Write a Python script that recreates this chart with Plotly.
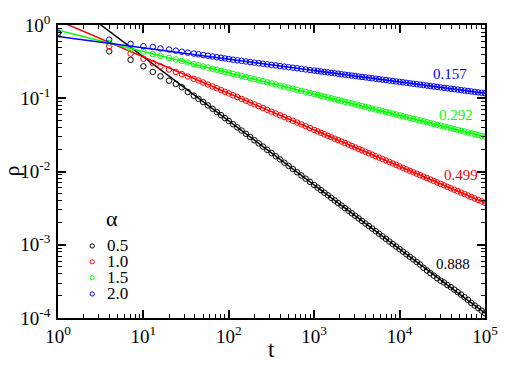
import math
import plotly.graph_objects as go

# ---------------- data (log10 values) ----------------
log10_t = [0, 0.60, 0.85, 1.00, 1.11, 1.20, 1.30, 1.38, 1.45, 1.52, 1.59, 1.645, 1.70, 1.755,
           1.81, 1.86, 1.91, 1.955, 2.00,
           2.05, 2.10, 2.15, 2.20, 2.25, 2.30, 2.35, 2.40, 2.45, 2.50, 2.55, 2.60, 2.65, 2.70,
           2.75, 2.80, 2.85, 2.90, 2.95, 3.00,
           3.04, 3.08, 3.12, 3.16, 3.20, 3.24, 3.28, 3.32, 3.36, 3.40, 3.44, 3.48, 3.52, 3.56,
           3.60, 3.64, 3.68, 3.72, 3.76, 3.80, 3.84, 3.88, 3.92, 3.96, 4.00, 4.04, 4.08, 4.12,
           4.16, 4.20, 4.24, 4.28, 4.32, 4.36, 4.40, 4.44, 4.48, 4.52, 4.56, 4.60, 4.64, 4.68,
           4.72, 4.76, 4.80, 4.84, 4.88, 4.92, 4.96, 5.00]

log10_rho_a05 = [-0.115, -0.36, -0.476, -0.564, -0.64, -0.70, -0.76, -0.805, -0.85, -0.915, -0.965,
                 -1.008, -1.052, -1.098, -1.144, -1.188, -1.231, -1.271, -1.31,
                 -1.354, -1.398, -1.441, -1.485, -1.529, -1.573, -1.616, -1.66, -1.704, -1.748,
                 -1.791, -1.835, -1.879, -1.923, -1.966, -2.01, -2.054, -2.098, -2.141, -2.185,
                 -2.22, -2.255, -2.29, -2.325, -2.36, -2.395, -2.43, -2.465, -2.50, -2.535, -2.57,
                 -2.605, -2.64, -2.675, -2.71, -2.745, -2.78, -2.815, -2.85, -2.885, -2.92, -2.955,
                 -2.99, -3.025, -3.06, -3.095, -3.13, -3.165, -3.20, -3.235, -3.27, -3.315, -3.352,
                 -3.387, -3.422, -3.457, -3.49, -3.515, -3.55, -3.578, -3.612, -3.646, -3.681,
                 -3.716, -3.752, -3.795, -3.83, -3.865, -3.90, -3.935]

log10_rho_a10 = [-0.115, -0.29, -0.39, -0.46, -0.52, -0.565, -0.608, -0.64, -0.67, -0.703, -0.735,
                 -0.757, -0.785, -0.812, -0.839, -0.864, -0.889, -0.912, -0.934,
                 -0.959, -0.984, -1.009, -1.034, -1.059, -1.083, -1.108, -1.133, -1.158, -1.183,
                 -1.208, -1.233, -1.258, -1.283, -1.308, -1.332, -1.357, -1.382, -1.407, -1.432,
                 -1.452, -1.472, -1.492, -1.512, -1.532, -1.552, -1.571, -1.591, -1.611, -1.631,
                 -1.651, -1.671, -1.691, -1.711, -1.731, -1.751, -1.771, -1.791, -1.810, -1.830,
                 -1.850, -1.870, -1.890, -1.910, -1.930, -1.950, -1.970, -1.990, -2.010, -2.030,
                 -2.050, -2.069, -2.089, -2.109, -2.129, -2.149, -2.169, -2.189, -2.209, -2.229,
                 -2.249, -2.269, -2.289, -2.308, -2.328, -2.348, -2.368, -2.388, -2.408, -2.428]

log10_rho_a15 = [-0.115, -0.245, -0.333, -0.363, -0.398, -0.422, -0.449, -0.472, -0.492, -0.512,
                 -0.533, -0.549, -0.565, -0.581, -0.597, -0.611, -0.626, -0.639, -0.652,
                 -0.667, -0.681, -0.696, -0.710, -0.725, -0.739, -0.754, -0.768, -0.783, -0.798,
                 -0.812, -0.827, -0.841, -0.856, -0.870, -0.885, -0.899, -0.914, -0.928, -0.943,
                 -0.955, -0.966, -0.978, -0.990, -1.001, -1.013, -1.024, -1.036, -1.048, -1.059,
                 -1.071, -1.083, -1.094, -1.106, -1.118, -1.129, -1.141, -1.153, -1.164, -1.176,
                 -1.187, -1.199, -1.211, -1.222, -1.234, -1.246, -1.257, -1.269, -1.281, -1.292,
                 -1.304, -1.315, -1.327, -1.339, -1.350, -1.362, -1.374, -1.385, -1.397, -1.409,
                 -1.420, -1.432, -1.444, -1.455, -1.467, -1.478, -1.490, -1.502, -1.513, -1.525]

log10_rho_a20 = [-0.105, -0.20, -0.258, -0.289, -0.30, -0.32, -0.335, -0.35, -0.365, -0.378, -0.39,
                 -0.40, -0.41, -0.42, -0.43, -0.44, -0.449, -0.457, -0.465,
                 -0.474, -0.482, -0.490, -0.498, -0.506, -0.514, -0.521, -0.529, -0.537, -0.545,
                 -0.552, -0.560, -0.568, -0.576, -0.583, -0.591, -0.599, -0.607, -0.614, -0.622,
                 -0.628, -0.634, -0.641, -0.647, -0.653, -0.659, -0.665, -0.672, -0.678, -0.684,
                 -0.690, -0.696, -0.703, -0.709, -0.715, -0.721, -0.727, -0.734, -0.740, -0.746,
                 -0.752, -0.758, -0.765, -0.771, -0.777, -0.783, -0.789, -0.796, -0.802, -0.808,
                 -0.814, -0.820, -0.827, -0.833, -0.839, -0.845, -0.851, -0.858, -0.864, -0.870,
                 -0.876, -0.882, -0.889, -0.895, -0.901, -0.907, -0.913, -0.920, -0.926, -0.932]

alpha_labels = ["0.5", "1.0", "1.5", "2.0"]
exponent_labels = ["0.888", "0.499", "0.292", "0.157"]
fit_slope = [0.875, 0.498, 0.291, 0.155]          # slopes of the drawn fit lines
fit_log_amp = [0.44, 0.062, -0.07, -0.157]        # log10 prefactors of the fit lines
series = [log10_rho_a05, log10_rho_a10, log10_rho_a15, log10_rho_a20]

x_tick_vals = [1, 10, 100, 1000, 10000, 100000]
x_tick_text = ["10<sup>0</sup>", "10<sup>1</sup>", "10<sup>2</sup>", "10<sup>3</sup>",
               "10<sup>4</sup>", "10<sup>5</sup>"]
y_tick_vals = [1e-4, 1e-3, 1e-2, 1e-1, 1]
y_tick_text = ["10<sup>-4</sup>", "10<sup>-3</sup>", "10<sup>-2</sup>", "10<sup>-1</sup>",
               "10<sup>0</sup>"]

# ---------------- styling ----------------
colors = ["#000000", "#ff0000", "#00ff00", "#0000ff"]
FONT = "'Liberation Serif', 'DejaVu Serif', serif"
W, H = 510, 365
ML, MR, MT, MB = 58, 15, 13, 47
PW, PH = W - ML - MR, H - MT - MB


def px(xp):
    return (xp - ML) / PW


def py(yp):
    return (H - MB - yp) / PH


t_vals = [10 ** v for v in log10_t]
t_line = [x_tick_vals[0], x_tick_vals[-1]]

fig = go.Figure()
for i, ys in enumerate(series):
    fig.add_trace(go.Scatter(
        x=t_vals, y=[10 ** v for v in ys], mode="markers",
        marker=dict(symbol="circle-open", size=5.5, color=colors[i], line=dict(width=1, color=colors[i])),
        showlegend=False, hoverinfo="skip"))
    fig.add_trace(go.Scatter(
        x=t_line,
        y=[10 ** (fit_log_amp[i] - fit_slope[i] * math.log10(x)) for x in t_line],
        mode="lines", line=dict(color=colors[i], width=1.5),
        showlegend=False, hoverinfo="skip"))

axis_common = dict(
    type="log", showline=True, linecolor="black", linewidth=1.5, mirror="allticks",
    ticks="inside", ticklen=8, tickwidth=1.5, tickcolor="black", showgrid=False, zeroline=False,
    tickfont=dict(family=FONT, size=19, color="black"),
    minor=dict(ticks="inside", ticklen=4.5, tickwidth=1, tickcolor="black", dtick="D1", showgrid=False),
)

fig.update_xaxes(range=[0, 5], tickvals=x_tick_vals, ticktext=x_tick_text, ticklabelstandoff=0, **axis_common)
fig.update_yaxes(range=[-4, 0], tickvals=y_tick_vals, ticktext=y_tick_text, ticklabelstandoff=2, **axis_common)

annotations = []
# fit exponent labels
label_pos = [(443, 261.5), (451, 169.5), (446, 106.5), (440, 64)]
for i, (lx, ly) in enumerate(label_pos):
    annotations.append(dict(x=px(lx), y=py(ly), xref="paper", yref="paper", text=exponent_labels[i],
                            showarrow=False, xanchor="left", yanchor="middle",
                            font=dict(family=FONT, size=15, color=colors[i])))
# axis titles
annotations.append(dict(x=px(276.5), y=py(366), xref="paper", yref="paper", text="t", showarrow=False,
                        xanchor="center", yanchor="bottom", font=dict(family=FONT, size=23, color="black")))
annotations.append(dict(x=px(10), y=py(165.5), xref="paper", yref="paper", text="ρ", showarrow=False,
                        textangle=-90, xanchor="center", yanchor="middle",
                        font=dict(family=FONT, size=22, color="black")))
# legend (manual)
annotations.append(dict(x=px(105), y=py(214), xref="paper", yref="paper", text="α", showarrow=False,
                        xanchor="left", yanchor="middle", font=dict(family=FONT, size=22, color="black")))
legend_rows = [243, 259.5, 276, 293]
shapes = []
for i, ry in enumerate(legend_rows):
    annotations.append(dict(x=px(106), y=py(ry), xref="paper", yref="paper", text=alpha_labels[i],
                            showarrow=False, xanchor="left", yanchor="middle",
                            font=dict(family=FONT, size=17, color="black")))
    r = 2.2
    shapes.append(dict(type="circle", xref="paper", yref="paper",
                       x0=px(93 - r), x1=px(93 + r), y0=py(ry + r), y1=py(ry - r),
                       line=dict(color=colors[i], width=1)))

fig.update_layout(
    width=W, height=H, margin=dict(l=ML, r=MR, t=MT, b=MB),
    paper_bgcolor="white", plot_bgcolor="white",
    annotations=annotations, shapes=shapes, showlegend=False,
    font=dict(family=FONT, color="black"),
)

# remove the browser's default page margin so the figure sits at the window's corner
fig.write_html("out.html",
               config={"displayModeBar": False},
               post_script="document.body.style.margin='0';document.body.style.overflow='hidden';")
